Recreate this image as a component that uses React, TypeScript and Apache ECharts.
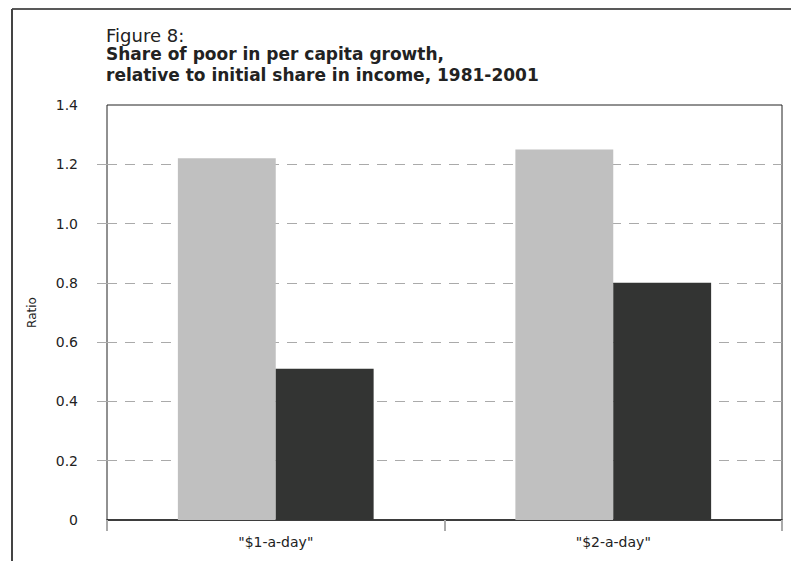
import React, { useEffect, useRef } from "react";
import * as echarts from "echarts";

const categories = ['"$1-a-day"', '"$2-a-day"'];
const shareGrowth = [1.22, 1.25];
const shareIncome = [0.51, 0.8];
const yTicks = [0, 0.2, 0.4, 0.6, 0.8, 1.0, 1.2, 1.4];
const innerTicks = [0.2, 0.4, 0.6, 0.8, 1.0, 1.2];

const FONT = "'DejaVu Sans', sans-serif";

export default function App() {
  const ref = useRef<HTMLDivElement>(null);
  useEffect(() => {
    if (!ref.current) return;
    const chart = echarts.init(ref.current, null, { renderer: "svg" });
    chart.setOption({
      animation: false,
      backgroundColor: "#ffffff",
      textStyle: { fontFamily: FONT },
      title: [
        {
          text: "Figure 8:",
          left: 101,
          top: 21,
          textStyle: { fontFamily: FONT, fontSize: 18, fontWeight: "normal", color: "#222" },
        },
        {
          text: "Share of poor in per capita growth,\nrelative to initial share in income, 1981-2001",
          left: 101,
          top: 38,
          textStyle: { fontFamily: FONT, fontSize: 17, fontWeight: "bold", color: "#222", lineHeight: 21 },
        },
      ],
      graphic: [
        { type: "line", shape: { x1: 12, y1: 9, x2: 791, y2: 9 }, style: { stroke: "#222", lineWidth: 1.5 } },
        { type: "line", shape: { x1: 12, y1: 9, x2: 12, y2: 561 }, style: { stroke: "#444", lineWidth: 2 } },
      ],
      grid: {
        left: 107,
        top: 105,
        right: 9,
        bottom: 41,
        show: true,
        borderColor: "#222",
        borderWidth: 1,
      },
      xAxis: {
        type: "category",
        data: categories,
        axisLine: { lineStyle: { color: "#222", width: 1.5 } },
        axisTick: { show: true, length: 11, lineStyle: { color: "#aaa", width: 2 } },
        axisLabel: { fontFamily: FONT, fontSize: 14, color: "#222", margin: 15 },
      },
      yAxis: {
        type: "value",
        min: 0,
        max: 1.4,
        interval: 0.2,
        name: "Ratio",
        nameLocation: "middle",
        nameGap: 69,
        nameTextStyle: { fontFamily: FONT, fontSize: 12, color: "#222" },
        axisLine: { show: false },
        axisTick: { show: true, length: 10, customValues: innerTicks, lineStyle: { color: "#aaa" } },
        axisLabel: {
          fontFamily: FONT,
          fontSize: 14,
          color: "#222",
          margin: 29,
          customValues: yTicks,
          formatter: (v: number) => (v === 0 ? "0" : v.toFixed(1)),
        },
        splitLine: { show: true, lineStyle: { color: "#aaa", type: [10, 8], width: 1 } },
      },
      series: [
        {
          type: "bar",
          data: shareGrowth,
          itemStyle: { color: "#c0c0c0" },
          barGap: "0%",
          barCategoryGap: "42%",
        },
        {
          type: "bar",
          data: shareIncome,
          itemStyle: { color: "#333433" },
          barGap: "0%",
          barCategoryGap: "42%",
        },
      ],
    });
    return () => chart.dispose();
  }, []);
  return <div ref={ref} style={{ position: "fixed", left: 0, top: 0, width: 791, height: 561 }} />;
}
